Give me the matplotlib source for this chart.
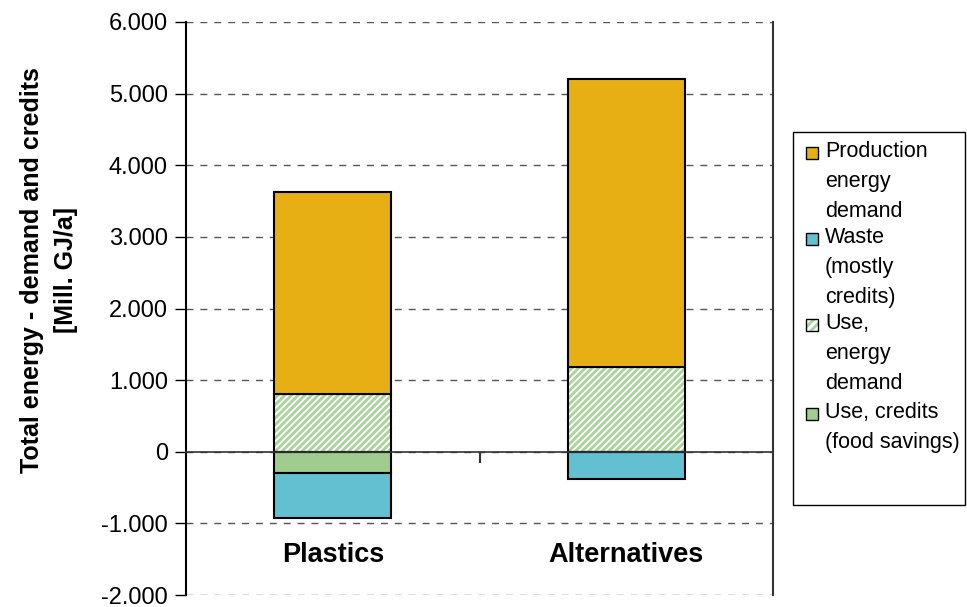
import matplotlib.pyplot as plt
from matplotlib.patches import Rectangle
from matplotlib.ticker import FuncFormatter

plt.rcParams['font.family'] = ['Liberation Sans', 'DejaVu Sans']
plt.rcParams['hatch.linewidth'] = 2.0

categories = ['Plastics', 'Alternatives']
# segment heights, Mill. GJ/a
production = [2810, 4030]
use_demand = [810, 1180]
use_credits = [-290, 0]
waste = [-630, -380]

legend_labels = ['Production\nenergy\ndemand', 'Waste\n(mostly\ncredits)',
                 'Use,\nenergy\ndemand', 'Use, credits\n(food savings)']

c_prod = '#E8AF14'
c_waste = '#62C0D0'
c_credit = '#A0CC90'
c_hatch = '#A8D49A'

W, H = 967, 607
fig = plt.figure(figsize=(W / 100, H / 100), dpi=100)
ax = fig.add_axes([186 / W, 1 - 595 / H, 587 / W, 573 / H])

x = list(range(len(categories)))
w = 0.4
edge = dict(edgecolor='black', linewidth=1.5, zorder=3)

ax.bar(x, use_credits, w, color=c_credit, **edge)
ax.bar(x, waste, w, bottom=use_credits, color=c_waste, **edge)
# hatched layer first, then the black outline on top
ax.bar(x, use_demand, w, color='white', edgecolor=c_hatch, hatch='/////',
       linewidth=0, zorder=2)
ax.bar(x, use_demand, w, fill=False, **edge)
ax.bar(x, production, w, bottom=use_demand, color=c_prod, **edge)

ax.set_xlim(-0.5, 1.5)
ax.set_ylim(-2000, 6000)
ax.set_yticks(range(-2000, 6001, 1000))
ax.yaxis.set_major_formatter(FuncFormatter(
    lambda v, p: f'{int(v):,}'.replace(',', '.')))
ax.yaxis.grid(True, linestyle=(0, (5, 5)), color='#555555', linewidth=1)
ax.set_axisbelow(True)

ax.spines['top'].set_visible(False)
ax.spines['right'].set_color('#333333')
ax.spines['right'].set_linewidth(1.5)
ax.spines['left'].set_linewidth(1.5)
ax.spines['bottom'].set_position(('data', 0))
ax.spines['bottom'].set_color('#333333')
ax.spines['bottom'].set_linewidth(1.2)
ax.spines['bottom'].set_zorder(4)
ax.set_xticks([0.5])
ax.set_xticklabels([''])
ax.tick_params(axis='x', direction='out', length=8, width=1.5, color='#333333')
ax.tick_params(axis='y', direction='out', length=8, width=1, labelsize=17, pad=5)

for i, name in enumerate(categories):
    ax.text(i, -1435, name, ha='center', va='center', fontsize=19.5,
            fontweight='bold')

fig.text(49 / W, 1 - 270 / H, 'Total energy - demand and credits\n[Mill. GJ/a]',
         rotation=90, ha='center', va='center', fontsize=18, fontweight='bold',
         linespacing=1.55)

# legend drawn by hand so the marker sits on the first line of each entry
fig.patches.append(Rectangle((793 / W, 1 - 505 / H), 172 / W, 373 / H,
                             transform=fig.transFigure, facecolor='white',
                             edgecolor='black', linewidth=1))
colors = [c_prod, c_waste, None, c_credit]
for k, (lab, col) in enumerate(zip(legend_labels, colors)):
    ytop = 153 + k * 86 + (3 if k == 3 else 0)
    yb = 1 - (ytop + 6) / H
    if col is None:
        fig.patches.append(Rectangle((806 / W, yb), 12 / W, 12 / H,
                                     transform=fig.transFigure, facecolor='white',
                                     edgecolor=c_hatch, hatch='////', linewidth=0))
        fig.patches.append(Rectangle((806 / W, yb), 12 / W, 12 / H,
                                     transform=fig.transFigure, fill=False,
                                     edgecolor='black', linewidth=1))
    else:
        fig.patches.append(Rectangle((806 / W, yb), 12 / W, 12 / H,
                                     transform=fig.transFigure, facecolor=col,
                                     edgecolor='black', linewidth=1))
    fig.text(825 / W, 1 - (ytop - 12) / H, lab, ha='left', va='top',
             fontsize=15.5, linespacing=1.55)

fig.savefig('out.png', dpi=100)
